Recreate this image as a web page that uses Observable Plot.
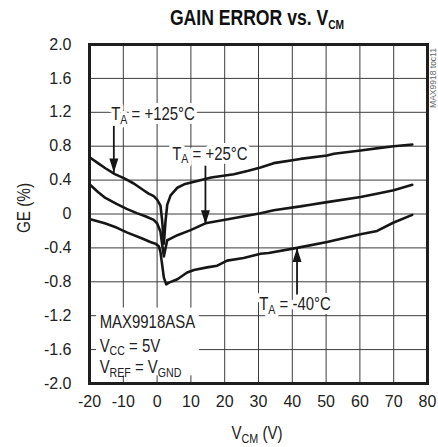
<!DOCTYPE html>
<html>
<head>
<meta charset="utf-8">
<script src="https://cdn.jsdelivr.net/npm/d3@7"></script>
<script src="https://cdn.jsdelivr.net/npm/@observablehq/plot@0.6"></script>
<style>
  html, body { margin: 0; padding: 0; background: white; }
  #chart svg { display: block; }
</style>
</head>
<body>
<div id="chart"></div>
<script>
// ---- data ----
const xTicks = [-20, -10, 0, 10, 20, 30, 40, 50, 60, 70, 80];
const yTicks = [-2.0, -1.6, -1.2, -0.8, -0.4, 0, 0.4, 0.8, 1.2, 1.6, 2.0];

// [VCM (V), GE (%)]
const curve125 = [[-20,0.67],[-17.5,0.6],[-15.3,0.54],[-12.5,0.47],[-9.7,0.42],[-6.9,0.36],[-4,0.28],[-2.5,0.24],[-1,0.21],[0,0.17],[1,0.1],[1.5,-0.08],[2,-0.35],[2.5,-0.08],[3,0.11],[4,0.22],[6,0.31],[8,0.35],[11,0.38],[16,0.43],[22.7,0.47],[27,0.51],[30.6,0.55],[34.5,0.6],[42.4,0.65],[50.3,0.69],[52.3,0.71],[60.2,0.75],[66,0.78],[70,0.8],[75.5,0.82]];
const curve25 = [[-20,0.35],[-17.5,0.26],[-15.3,0.19],[-12,0.12],[-9,0.06],[-6,0.01],[-3.3,-0.03],[-1,-0.07],[0,-0.11],[1,-0.21],[1.5,-0.36],[2,-0.5],[2.5,-0.4],[3,-0.31],[4,-0.29],[6,-0.25],[9.9,-0.19],[14.3,-0.11],[19.7,-0.07],[26.6,-0.02],[30.6,0.01],[34.5,0.045],[42.4,0.09],[45.4,0.11],[50.3,0.14],[60.2,0.2],[65,0.24],[70,0.28],[75.5,0.345]];
const curveM40 = [[-20,-0.06],[-15.5,-0.11],[-12,-0.16],[-8.8,-0.22],[-4.4,-0.29],[-2,-0.33],[-0.5,-0.35],[0.5,-0.38],[1,-0.45],[1.5,-0.6],[2,-0.75],[2.7,-0.83],[3.5,-0.81],[6,-0.77],[8.9,-0.69],[10.9,-0.66],[14.8,-0.63],[17.8,-0.61],[20.7,-0.55],[25.6,-0.52],[30.6,-0.47],[33,-0.46],[41.4,-0.4],[50.3,-0.33],[60.2,-0.24],[65.1,-0.2],[70,-0.1],[75.5,-0.01]];

// annotation labels (data units)
const labels = [
  {x: -1.2, y: 1.175, text: "T_{A} = +125°C"},
  {x: 15.6, y: 0.71, text: "T_{A} = +25°C"},
  {x: 40.8, y: -1.07, text: "T_{A} = -40°C"}
];
const arrows = [
  {x: -12.8, from: 1.04, to: 0.49, dir: "down"},
  {x: 14.3, from: 0.57, to: -0.12, dir: "down"},
  {x: 41.4, from: -0.95, to: -0.40, dir: "up"}
];
const noteLines = [
  {x: -17.0, y: -1.28, text: "MAX9918ASA"},
  {x: -17.0, y: -1.56, text: "V_{CC} = 5V"},
  {x: -17.0, y: -1.81, text: "V_{REF} = V_{GND}"}
];
const noteBox = [{x1: -17.9, x2: 12.5, y1: -1.91, y2: -1.11}];

const titleText = "GAIN ERROR vs. V_{CM}";
const xLabel = "V_{CM} (V)";
const yLabel = "GE (%)";
const sideNote = "MAX9918 toc11";

// ---- drawing ----
const FONT = "'Liberation Sans', Arial, sans-serif";
const INK = "#161616";
const SX = 0.83; // horizontal condensing of annotation text (reference uses a condensed face)

const headDown = { draw(ctx) { ctx.moveTo(0, 0); ctx.lineTo(-4.5, -14); ctx.lineTo(4.5, -14); ctx.closePath(); } };
const headUp   = { draw(ctx) { ctx.moveTo(0, 0); ctx.lineTo(-4.5, 14); ctx.lineTo(4.5, 14); ctx.closePath(); } };

const series = [
  {name: "+125", pts: curve125},
  {name: "+25", pts: curve25},
  {name: "-40", pts: curveM40}
];
const lineData = series.flatMap(s => s.pts.map(([x, y]) => ({series: s.name, x, y})));

const plot = Plot.plot({
  width: 438,
  height: 447,
  marginLeft: 89,
  marginRight: 11,
  marginTop: 44,
  marginBottom: 64,
  style: {fontFamily: FONT, fontSize: "16px", background: "white", color: "#222"},
  x: {domain: [-20, 80], ticks: xTicks, label: null},
  y: {domain: [-2, 2], ticks: yTicks, label: null},
  marks: [
    Plot.gridX(xTicks, {stroke: "#3c3c3c", strokeOpacity: 1, strokeWidth: 1}),
    Plot.gridY(yTicks, {stroke: "#3c3c3c", strokeOpacity: 1, strokeWidth: 1}),
    Plot.rect(noteBox, {x1: "x1", x2: "x2", y1: "y1", y2: "y2", fill: "white"}),
    Plot.line(lineData, {x: "x", y: "y", z: "series", stroke: INK, strokeWidth: 2.6, curve: "linear", strokeLinejoin: "round"}),
    Plot.link(arrows, {x1: "x", x2: "x", y1: "from", y2: "to", stroke: INK, strokeWidth: 1.8}),
    Plot.dot(arrows.filter(a => a.dir === "down"), {x: "x", y: "to", symbol: headDown, fill: INK, stroke: "none"}),
    Plot.dot(arrows.filter(a => a.dir === "up"), {x: "x", y: "to", symbol: headUp, fill: INK, stroke: "none"}),
    Plot.text(labels, {x: "x", y: "y", text: "text", fill: "#222", stroke: "white", strokeWidth: 8, fontSize: 18, textAnchor: "middle", lineAnchor: "middle"}),
    Plot.text(noteLines, {x: "x", y: "y", text: "text", fill: "#222", fontSize: 18, textAnchor: "start", lineAnchor: "middle"}),
    Plot.frame({stroke: "#1e1e1e", strokeWidth: 3}),
    Plot.axisX({ticks: xTicks, tickSize: 0, tickPadding: 12, tickFormat: d => String(d), label: null}),
    Plot.axisY({ticks: yTicks, tickSize: 0, tickPadding: 18, tickFormat: d => d === 0 ? "0" : d.toFixed(1), label: null})
  ]
});

const svg = d3.select(plot);

// horizontally condense Plot's annotation texts around their anchor
svg.selectAll('g[aria-label="text"] text').each(function() {
  const x = +this.getAttribute("x") || 0;
  const y = +this.getAttribute("y") || 0;
  const T = this.getAttribute("transform") || "";
  this.setAttribute("transform", `${T} translate(${x},${y}) scale(${SX},1) translate(${-x},${-y})`);
});

// extra texts
svg.append("text").attr("transform", "translate(257,25) scale(0.8,1)")
  .attr("text-anchor", "middle").attr("font-weight", "bold").attr("font-size", 22).attr("fill", "#111").text(titleText);
svg.append("text").attr("transform", "translate(257,439) scale(0.84,1)")
  .attr("text-anchor", "middle").attr("font-size", 18).attr("fill", "#222").text(xLabel);
svg.append("text").attr("transform", "translate(30,208) rotate(-90) scale(0.85,1)")
  .attr("text-anchor", "middle").attr("font-size", 18).attr("fill", "#222").text(yLabel);
svg.append("text").attr("transform", "translate(436,78) rotate(-90)")
  .attr("text-anchor", "middle").attr("font-size", 8.5).attr("fill", "#666").text(sideNote);

// convert _{..} into subscript tspans
svg.selectAll("text").each(function() {
  const t = this.textContent;
  if (!t.includes("_{")) return;
  const fs = parseFloat(getComputedStyle(this).fontSize) || 16;
  const el = d3.select(this);
  el.selectAll("*").remove();
  el.text(null);
  const re = /_\{([^}]*)\}/g;
  let last = 0, m, shifted = false;
  const shift = fs * 0.22;
  while ((m = re.exec(t)) !== null) {
    if (m.index > last) {
      const ts = el.append("tspan").text(t.slice(last, m.index));
      if (shifted) { ts.attr("dy", -shift); shifted = false; }
    }
    const sub = el.append("tspan").attr("font-size", fs * 0.8).text(m[1]);
    if (!shifted) { sub.attr("dy", shift); shifted = true; }
    last = re.lastIndex;
  }
  if (last < t.length) {
    const ts = el.append("tspan").text(t.slice(last));
    if (shifted) ts.attr("dy", -shift);
  }
});

document.getElementById("chart").appendChild(plot);
</script>
</body>
</html>
